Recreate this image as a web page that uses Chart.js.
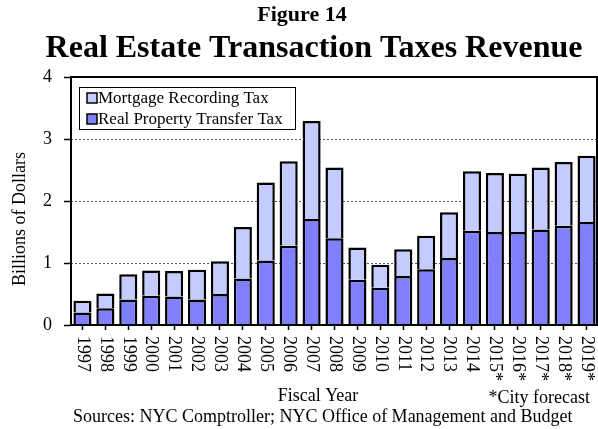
<!DOCTYPE html>
<html>
<head>
<meta charset="utf-8">
<script src="https://cdn.jsdelivr.net/npm/chart.js@4"></script>
<style>
  body { margin: 0; background: #fff; }
  #wrap { width: 598px; height: 429px; }
</style>
</head>
<body>
<div id="wrap"><canvas id="grafico" width="598" height="429"></canvas></div>
<script>
const anos = ["1997","1998","1999","2000","2001","2002","2003","2004","2005","2006","2007","2008",
  "2009","2010","2011","2012","2013","2014","2015*","2016*","2017*","2018*","2019*"];
// Real Property Transfer Tax (bilhoes)
const rptt = [0.20,0.27,0.41,0.47,0.46,0.41,0.50,0.75,1.04,1.28,1.71,1.40,
  0.73,0.60,0.79,0.90,1.08,1.52,1.50,1.50,1.54,1.60,1.66];
// Mortgage Recording Tax (bilhoes)
const mrt = [0.19,0.24,0.41,0.41,0.41,0.48,0.53,0.83,1.26,1.36,1.58,1.14,
  0.52,0.37,0.43,0.54,0.74,0.96,0.95,0.94,1.00,1.03,1.07];
const yTicks = [0, 1, 2, 3, 4];

const SERIF = '"Times New Roman", "Liberation Serif", serif';
Chart.defaults.font.family = SERIF;
Chart.defaults.color = "#000";

// titulos, legenda, rotulos e moldura
const extras = {
  id: "extras",
  afterDraw(chart) {
    const ctx = chart.ctx;
    const a = chart.chartArea;
    const x = chart.scales.x;
    ctx.save();
    ctx.fillStyle = "#000";

    // moldura
    ctx.strokeStyle = "#000";
    ctx.lineWidth = 2;
    ctx.strokeRect(a.left, a.top, a.right - a.left - 1, a.bottom - a.top);

    // titulo
    ctx.textAlign = "center";
    ctx.textBaseline = "alphabetic";
    ctx.font = "bold 22px " + SERIF;
    ctx.fillText("Figure 14", 302, 21);
    ctx.font = "bold 32px " + SERIF;
    ctx.fillText("Real Estate Transaction Taxes Revenue", 314, 57);

    // rotulos do eixo x (girados)
    ctx.font = "18px " + SERIF;
    ctx.textAlign = "left";
    ctx.textBaseline = "middle";
    anos.forEach((ano, i) => {
      const px = x.getPixelForValue(i);
      ctx.save();
      ctx.translate(px, a.bottom + 11);
      ctx.rotate(Math.PI / 2);
      ctx.fillText(ano, 0, 0);
      ctx.restore();
    });

    // titulo eixo y
    ctx.save();
    ctx.translate(20, 219);
    ctx.rotate(-Math.PI / 2);
    ctx.textAlign = "center";
    ctx.fillText("Billions of Dollars", 0, 0);
    ctx.restore();

    // rodape
    ctx.textBaseline = "alphabetic";
    ctx.textAlign = "center";
    ctx.fillText("Fiscal Year", 318, 401);
    ctx.textAlign = "right";
    ctx.fillText("*City forecast", 590, 403);
    ctx.textAlign = "left";
    ctx.fillText("Sources: NYC Comptroller; NYC Office of Management and Budget", 73, 422);

    // legenda
    ctx.fillStyle = "#fff";
    ctx.fillRect(79, 87, 216, 42);
    ctx.lineWidth = 1;
    ctx.strokeRect(79.5, 87.5, 216, 42);
    const itens = [chart.data.datasets[1], chart.data.datasets[0]];
    ctx.font = "17px " + SERIF;
    ctx.textBaseline = "middle";
    itens.forEach((ds, i) => {
      const cy = 98 + i * 21;
      ctx.fillStyle = ds.backgroundColor;
      ctx.fillRect(87, cy - 5, 10, 10);
      ctx.lineWidth = 1.5;
      ctx.strokeStyle = "#000";
      ctx.strokeRect(87, cy - 5, 10, 10);
      ctx.fillStyle = "#000";
      ctx.fillText(ds.label, 98, cy + 1);
    });
    ctx.restore();
  }
};

new Chart(document.getElementById("grafico"), {
  type: "bar",
  data: {
    labels: anos,
    datasets: [
      { label: "Real Property Transfer Tax", data: rptt, backgroundColor: "#8080FF",
        borderColor: "#000", borderWidth: 2.5, borderSkipped: "start" },
      { label: "Mortgage Recording Tax", data: mrt, backgroundColor: "#C4CCFF",
        borderColor: "#000", borderWidth: 2.5, borderSkipped: "start" }
    ]
  },
  options: {
    responsive: false,
    animation: false,
    layout: { padding: { top: 77, left: 0, right: 0, bottom: 0 } },
    datasets: { bar: { barPercentage: 0.79, categoryPercentage: 1 } },
    plugins: { legend: { display: false }, title: { display: false }, tooltip: { enabled: false } },
    scales: {
      x: {
        stacked: true,
        ticks: { display: false },
        border: { display: false },
        grid: { drawOnChartArea: false, drawTicks: true, tickLength: 5, offset: false,
          tickColor: "#000", tickWidth: 1.5 },
        afterFit(s) { s.height = 104; }
      },
      y: {
        stacked: true,
        min: 0, max: 4,
        afterBuildTicks(s) { s.ticks = yTicks.map(v => ({ value: v })); },
        ticks: { padding: 12, font: { size: 18 } },
        border: { display: false, dash: [2, 2] },
        grid: {
          color: c => (c.tick && (c.tick.value === 0 || c.tick.value === 4)) ? "rgba(0,0,0,0)" : "#555",
          lineWidth: 1, tickColor: "#000", tickWidth: 1.5, tickLength: 7
        },
        afterFit(s) { s.width = 71; }
      }
    }
  },
  plugins: [extras]
});
</script>
</body>
</html>
